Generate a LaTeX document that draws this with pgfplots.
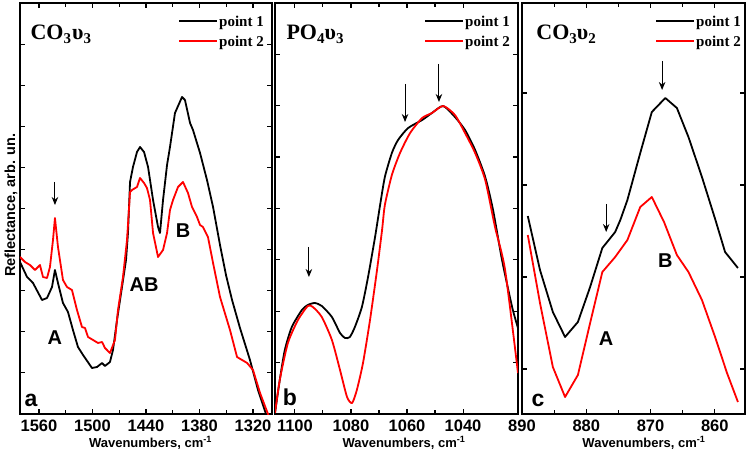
\documentclass[border=0pt]{standalone}
\usepackage{fontspec}
\setmainfont{Liberation Sans}
\newfontfamily\tnr{Liberation Serif}
\usepackage{pgfplots}
\pgfplotsset{compat=1.18}
\usetikzlibrary{arrows.meta}
\pgfplotsset{
  panel/.style={
    scale only axis, height=411pt, anchor=south west,
    x dir=reverse, ymin=0, ymax=411, yticklabels={},
    axis line style={line width=1.2pt},
    major tick length=5pt, minor tick length=4pt,
    every tick/.style={black, line width=1.1pt},
    minor x tick num=1, tick align=inside,
    xlabel={Wavenumbers, cm\textsuperscript{-1}},
    xlabel style={font=\bfseries\fontsize{13}{15}\selectfont, anchor=base, yshift=-33pt},
    xticklabel style={font=\bfseries\fontsize{16.5}{18}\selectfont, yshift=-2pt},
    scaled x ticks=false,
    /pgf/number format/1000 sep={},
    /pgf/number format/assume math mode=true,
  },
}
\tikzset{
  lab/.style={font=\bfseries\fontsize{20}{22}\selectfont},
  let/.style={font=\bfseries\fontsize{23}{25}\selectfont},
  ttl/.style={anchor=base west, font=\tnr\bfseries\fontsize{22}{24}\selectfont},
  arr/.style={-{Stealth[length=8pt,width=6.5pt]}, line width=1pt},
  legtxt/.style={anchor=base west, inner sep=0pt, font=\tnr\bfseries\fontsize{15}{17}\selectfont},
  p1/.style={black, line width=1.8pt, line join=round},
  p2/.style={red, line width=1.8pt, line join=round},
}
\newcommand{\sub}[1]{\raisebox{-4pt}{\fontsize{15}{15}\selectfont #1}}
% legend: #1 = horizontal offset of the whole legend
\newcommand{\leg}[1]{%
  \draw[p1, line width=2pt] ([xshift=-93pt+#1, yshift=-18pt]axis description cs:1,1) -- ++(38pt,0pt);
  \draw[p2, line width=2pt] ([xshift=-93pt+#1, yshift=-38pt]axis description cs:1,1) -- ++(38pt,0pt);
  \node[legtxt] at ([xshift=-53pt+#1, yshift=-24pt]axis description cs:1,1) {point 1};
  \node[legtxt] at ([xshift=-53pt+#1, yshift=-44pt]axis description cs:1,1) {point 2};}
\begin{document}
\begin{tikzpicture}
\path[use as bounding box] (0,0) rectangle (749pt,455pt);
% ---------- panel a ----------
\begin{axis}[panel, at={(20pt,41pt)}, width=252pt,
  xmin=1298.7, xmax=1581.3, xtick={1560,1500,1440,1380,1320},
  ytick={41.1,82.2,123.3,164.4,205.5,246.6,287.7,328.8,369.9},
  xlabel style={at={(axis description cs:0.518,0)}},
  ylabel={Reflectance, arb. un.},
  ylabel style={at={(axis description cs:-0.036,0.508)}, anchor=center, font=\bfseries\fontsize{14.5}{16}\selectfont}]
\addplot[p1] coordinates {(1581.3,152) (1573.4,137) (1566.7,131) (1556.6,114) (1551.0,116) (1545.4,127) (1542.1,144) (1538.7,131) (1533.1,111) (1527.5,102) (1521.9,84) (1516.3,67) (1510.6,59) (1500.6,46) (1494.9,47) (1489.3,51) (1486.0,48) (1480.4,52) (1477.0,64) (1472.5,94) (1466.9,127) (1462.4,154) (1460.2,181) (1457.9,232) (1454.6,247) (1450.1,262) (1446.7,267) (1442.2,262) (1437.7,247) (1432.1,214) (1426.5,187) (1424.3,181) (1420.9,214) (1416.4,249) (1413.1,267) (1407.5,301) (1399.6,317) (1396.3,314) (1390.6,291) (1387.3,284) (1379.4,261) (1371.6,234) (1364.8,207) (1357.0,169) (1350.3,139) (1343.5,114) (1334.6,86) (1323.4,54) (1314.4,24) (1305.4,0) (1298.7,-16)};
\addplot[p2] coordinates {(1581.3,157) (1575.7,152) (1570.1,149) (1564.5,144) (1561.1,147) (1558.9,149) (1555.5,137) (1551.0,136) (1547.7,147) (1544.3,174) (1542.1,196) (1538.7,167) (1533.1,134) (1528.6,127) (1523.0,124) (1517.4,104) (1511.8,87) (1508.4,86) (1505.0,77) (1499.4,74) (1493.8,71) (1489.3,72) (1486.0,66) (1480.4,61) (1474.8,74) (1471.4,104) (1465.8,137) (1461.3,174) (1457.9,222) (1455.7,224) (1450.1,227) (1446.7,236) (1442.2,231) (1438.9,226) (1435.5,214) (1432.1,181) (1426.5,157) (1420.9,164) (1416.4,181) (1413.1,204) (1409.7,214) (1404.1,227) (1398.5,232) (1392.9,221) (1388.4,207) (1382.8,197) (1379.4,189) (1376.1,187) (1370.5,177) (1364.8,151) (1357.0,117) (1345.8,84) (1337.9,57) (1326.6,51) (1320.0,44) (1312.1,21) (1303.2,0) (1298.7,-10)};
\leg{0pt}
\node[ttl] at (axis description cs:0.028,0.91) {CO\sub{3}\kern1pt υ\sub{3}};
\node[let] at (axis cs:1569,14) {a};
\node[lab] at (axis cs:1542.1,76) {A};
\node[lab] at (axis cs:1442.2,129) {AB};
\node[lab] at (axis cs:1398.5,183) {B};
\draw[arr] (axis cs:1542.1,232) -- (axis cs:1542.1,209);
\end{axis}
% ---------- panel b ----------
\begin{axis}[panel, at={(275pt,41pt)}, width=243pt,
  xmin=1020.4, xmax=1107.1, xtick={1100,1080,1060,1040},
  ytick={51.4,102.8,154.2,205.6,257,308.4,359.8},
  xlabel style={at={(axis description cs:0.531,0)}}]
\addplot[p1, smooth, tension=0.4] coordinates {(1107.1,1) (1105.4,34) (1103.6,64) (1101.1,87) (1097.5,104) (1095.4,109) (1092.9,111) (1090.4,108) (1086.8,97) (1083.9,81) (1082.1,76) (1080.4,77) (1078.6,87) (1076.1,107) (1073.9,137) (1071.4,177) (1069.6,209) (1067.9,237) (1065.4,261) (1063.2,274) (1059.6,286) (1054.6,294) (1051.1,301) (1047.1,308) (1042.9,297) (1039.3,284) (1035.7,264) (1032.1,237) (1029.3,204) (1026.1,154) (1022.5,107) (1020.4,86)};
\addplot[p2, smooth, tension=0.4] coordinates {(1107.1,1) (1105.4,34) (1102.5,71) (1098.9,94) (1095.4,108) (1093.6,107) (1090.4,97) (1086.8,74) (1083.9,44) (1081.4,17) (1079.6,11) (1077.9,24) (1075.7,51) (1073.2,94) (1070.7,144) (1068.9,184) (1067.9,209) (1065.4,239) (1062.5,261) (1058.9,281) (1054.6,296) (1051.1,301) (1047.1,308) (1042.9,299) (1039.3,281) (1035.7,261) (1032.1,234) (1028.6,187) (1025.0,144) (1020.4,41)};
\leg{0pt}
\node[ttl] at (axis description cs:0.033,0.91) {PO\sub{4}υ\sub{3}};
\node[let] at (axis cs:1101.8,17) {b};
\draw[arr] (axis cs:1095,167) -- (axis cs:1095,137);
\draw[arr] (axis cs:1060.7,330) -- (axis cs:1060.7,292);
\draw[arr] (axis cs:1048.6,350) -- (axis cs:1048.6,312);
\end{axis}
% ---------- panel c ----------
\begin{axis}[panel, at={(522pt,41pt)}, width=223pt,
  xmin=855.3, xmax=890, xtick={890,880,870,860},
  ytick={45,137,229,321},
  xlabel style={at={(axis description cs:0.547,0)}}]
\addplot[p1] coordinates {(889.1,198) (887.2,144) (885.2,102) (883.3,77) (881.3,92) (879.4,127) (877.5,166) (875.5,182) (874.7,194) (873.6,214) (871.6,261) (869.8,302) (867.7,316) (865.9,306) (864.1,277) (862.0,237) (859.9,194) (858.4,162) (856.4,146)};
\addplot[p2] coordinates {(889.1,179) (887.2,111) (885.2,47) (883.3,17) (881.3,39) (879.4,91) (877.5,142) (875.5,157) (873.6,174) (871.6,207) (869.8,217) (867.9,192) (865.9,159) (864.1,142) (862.0,114) (859.9,76) (858.1,41) (856.4,12)};
\leg{4pt}
\node[ttl] at (axis description cs:0.049,0.91) {CO\sub{3}υ\sub{2}};
\node[let] at (axis cs:887.5,14) {c};
\node[lab] at (axis cs:876.9,75) {A};
\node[lab] at (axis cs:867.7,153) {B};
\draw[arr] (axis cs:868.2,353) -- (axis cs:868.2,324);
\draw[arr] (axis cs:876.9,210) -- (axis cs:876.9,182);
\end{axis}
\end{tikzpicture}
\end{document}
